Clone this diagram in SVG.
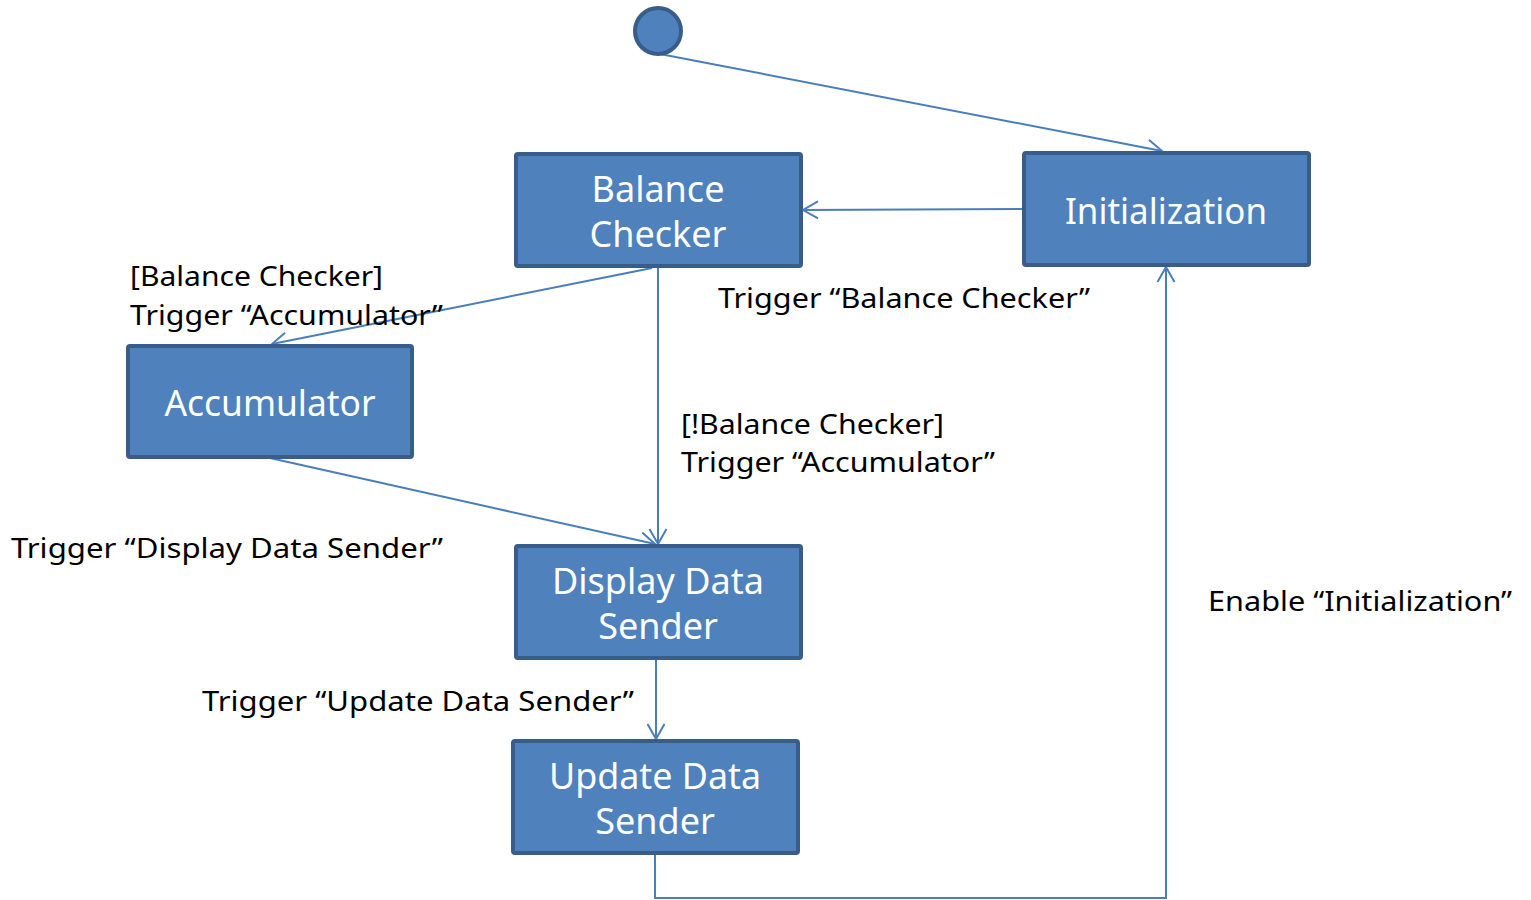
<svg xmlns="http://www.w3.org/2000/svg" width="1531" height="900" viewBox="0 0 1531 900">
<style>
.node{fill:#4f81bd;stroke:#385d8a;stroke-width:4}
.nt{fill:#ffffff;font-family:"Noto Sans","Open Sans","DejaVu Sans",sans-serif;font-size:36px;text-anchor:middle}
.lbl{fill:#000000;font-family:"Noto Sans","Open Sans","DejaVu Sans",sans-serif;font-size:28px}
.edge{fill:none;stroke:#4a7ebb;stroke-width:2}
</style>
<defs>
<marker id="arr" markerUnits="userSpaceOnUse" markerWidth="34" markerHeight="34" viewBox="-17 -17 34 34" refX="0" refY="0" orient="auto">
<path d="M-15,-8.5 L0,0 L-15,8.5" fill="none" stroke="#4a7ebb" stroke-width="2"/>
</marker>
</defs>
<rect width="1531" height="900" fill="#ffffff"/>
<g id="connectors">
<line class="edge" x1="660" y1="54" x2="1162" y2="151" marker-end="url(#arr)"/>
<line class="edge" x1="1023" y1="209" x2="803" y2="210" marker-end="url(#arr)"/>
<line class="edge" x1="652" y1="268" x2="272" y2="344" marker-end="url(#arr)"/>
<line class="edge" x1="658" y1="268" x2="658" y2="544" marker-end="url(#arr)"/>
<line class="edge" x1="270" y1="458" x2="655" y2="544" marker-end="url(#arr)"/>
<line class="edge" x1="656" y1="659" x2="656" y2="739" marker-end="url(#arr)"/>
<polyline class="edge" points="655,853 655,898 1166,898 1166,267" marker-end="url(#arr)"/>
</g>
<g id="start">
<circle cx="658" cy="31" r="23" fill="#4f81bd" stroke="#385d8a" stroke-width="4"/>
</g>
<g id="balance-checker">
<rect class="node" x="516" y="154" width="285" height="112" rx="2"/>
<text class="nt" x="658" y="202">Balance</text>
<text class="nt" x="658" y="247">Checker</text>
</g>
<g id="initialization">
<rect class="node" x="1024" y="153" width="285" height="112" rx="2"/>
<text class="nt" x="1166" y="224" textLength="202" lengthAdjust="spacingAndGlyphs">Initialization</text>
</g>
<g id="accumulator">
<rect class="node" x="128" y="346" width="284" height="111" rx="2"/>
<text class="nt" x="270" y="416" textLength="211" lengthAdjust="spacingAndGlyphs">Accumulator</text>
</g>
<g id="display-data-sender">
<rect class="node" x="516" y="546" width="285" height="112" rx="2"/>
<text class="nt" x="658" y="594" textLength="212" lengthAdjust="spacingAndGlyphs">Display Data</text>
<text class="nt" x="658" y="639">Sender</text>
</g>
<g id="update-data-sender">
<rect class="node" x="513" y="741" width="285" height="112" rx="2"/>
<text class="nt" x="655" y="789" textLength="212" lengthAdjust="spacingAndGlyphs">Update Data</text>
<text class="nt" x="655" y="834">Sender</text>
</g>
<g id="labels">
<text class="lbl" x="130" y="286" textLength="253" lengthAdjust="spacingAndGlyphs">[Balance Checker]</text>
<text class="lbl" x="130" y="325" textLength="313" lengthAdjust="spacingAndGlyphs">Trigger “Accumulator”</text>
<text class="lbl" x="718" y="308" textLength="372" lengthAdjust="spacingAndGlyphs">Trigger “Balance Checker”</text>
<text class="lbl" x="681" y="434" textLength="263" lengthAdjust="spacingAndGlyphs">[!Balance Checker]</text>
<text class="lbl" x="681" y="472" textLength="314" lengthAdjust="spacingAndGlyphs">Trigger “Accumulator”</text>
<text class="lbl" x="11" y="558" textLength="432" lengthAdjust="spacingAndGlyphs">Trigger “Display Data Sender”</text>
<text class="lbl" x="202" y="711" textLength="432" lengthAdjust="spacingAndGlyphs">Trigger “Update Data Sender”</text>
<text class="lbl" x="1208" y="611" textLength="304" lengthAdjust="spacingAndGlyphs">Enable “Initialization”</text>
</g>
</svg>
